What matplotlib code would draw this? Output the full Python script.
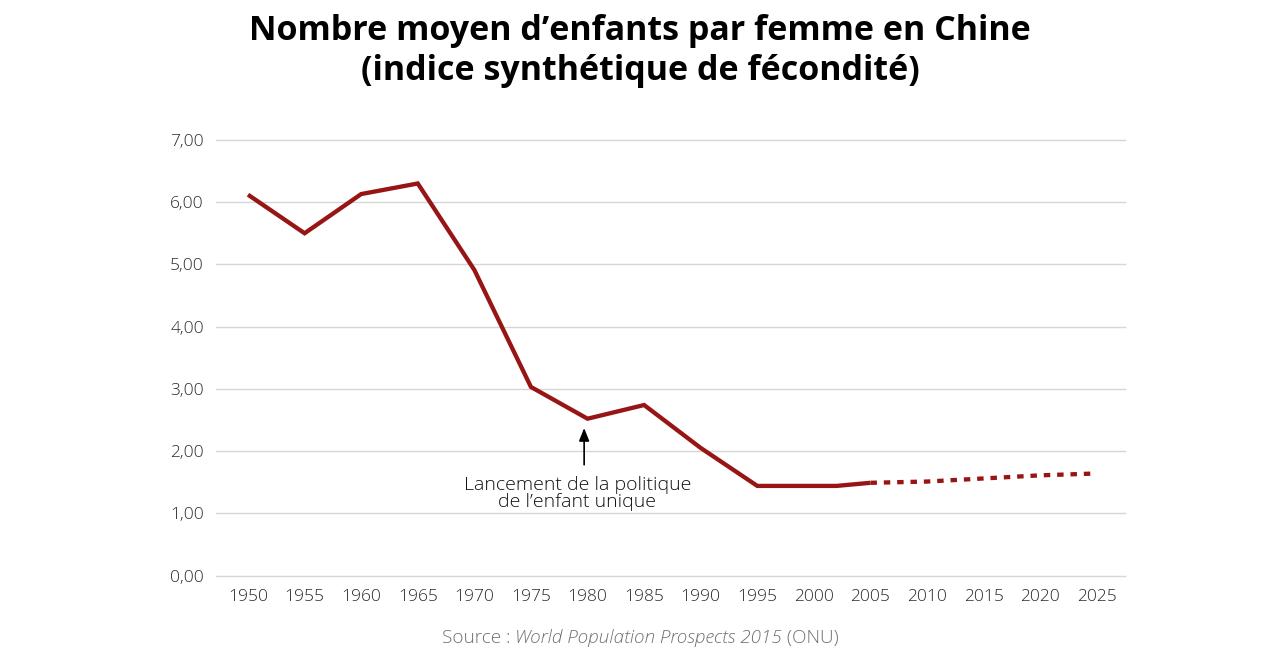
import matplotlib
matplotlib.use("Agg")
import matplotlib.pyplot as plt

plt.rcParams['font.family'] = ['Open Sans', 'DejaVu Sans']

# indice synthétique de fécondité, Chine
years_obs = [1950, 1955, 1960, 1965, 1970, 1975, 1980, 1985, 1990, 1995, 2000, 2002, 2005]
tfr_obs = [6.12, 5.50, 6.13, 6.30, 4.91, 3.03, 2.52, 2.74, 2.05, 1.44, 1.44, 1.44, 1.49]

years_proj = [2005, 2010, 2015, 2020, 2025]
tfr_proj = [1.49, 1.51, 1.56, 1.61, 1.64]

x_ticks = list(range(1950, 2030, 5))
y_ticks = [0, 1, 2, 3, 4, 5, 6, 7]
y_labels = ['0,00', '1,00', '2,00', '3,00', '4,00', '5,00', '6,00', '7,00']

line_color = '#981515'

fig = plt.figure(figsize=(12.8, 6.6), dpi=100)
ax = fig.add_axes([0.169, 0.128, 0.710, 0.660])

ax.plot(years_obs, tfr_obs, color=line_color, lw=3.1, solid_joinstyle='miter',
        solid_capstyle='butt', zorder=3)
ax.plot(years_proj, tfr_proj, color=line_color, lw=3.1, linestyle=(0, (1.5, 1.6)),
        dash_capstyle='butt', zorder=3)

ax.set_xlim(1947.2, 2027.5)
ax.set_ylim(0, 7)
ax.set_xticks(x_ticks)
ax.set_yticks(y_ticks)
ax.set_yticklabels(y_labels)
ax.grid(axis='y', color='#d6d6d6', lw=1.0)
for gl in ax.get_ygridlines():
    gl.set_clip_on(False)
ax.set_axisbelow(True)
for s in ax.spines.values():
    s.set_visible(False)
ax.tick_params(length=0, labelsize=12.5, colors='#2a2a2a')
ax.tick_params(axis='y', pad=9)
ax.tick_params(axis='x', pad=10)
for lab in ax.get_xticklabels() + ax.get_yticklabels():
    lab.set_fontweight('light')

# annotation
ax.annotate('', xy=(1979.7, 2.37), xytext=(1979.7, 1.78),
            arrowprops=dict(arrowstyle='-|>,head_length=0.55,head_width=0.22',
                            color='black', lw=1.2,
                            mutation_scale=14, shrinkA=0, shrinkB=0))
ax.text(1979.1, 1.60, 'Lancement de la politique\nde l\u2019enfant unique',
        ha='center', va='top', fontsize=14, fontweight='light',
        color='#111111', linespacing=0.95)

# title
fig.text(0.5, 0.953, 'Nombre moyen d\u2019enfants par femme en Chine',
         ha='center', va='center', fontsize=24.5, fontweight='bold', color='black')
fig.text(0.5, 0.892, '(indice synthétique de fécondité)',
         ha='center', va='center', fontsize=24.5, fontweight='bold', color='black')

# source line with italic part
parts = [('Source : ', 'normal'), ('World Population Prospects 2015', 'italic'),
         (' (ONU)', 'normal')]
fig.canvas.draw()
renderer = fig.canvas.get_renderer()
texts = []
for s, st in parts:
    t = fig.text(0, 0.034, s, fontsize=13.6, style=st, fontweight='light',
                 color='#707070', ha='left', va='center')
    texts.append(t)
widths = [t.get_window_extent(renderer).width for t in texts]
x0 = (fig.bbox.width - sum(widths)) / 2
for t, w in zip(texts, widths):
    t.set_x(x0 / fig.bbox.width)
    x0 += w

fig.savefig('out.png', dpi=100, facecolor='white')
